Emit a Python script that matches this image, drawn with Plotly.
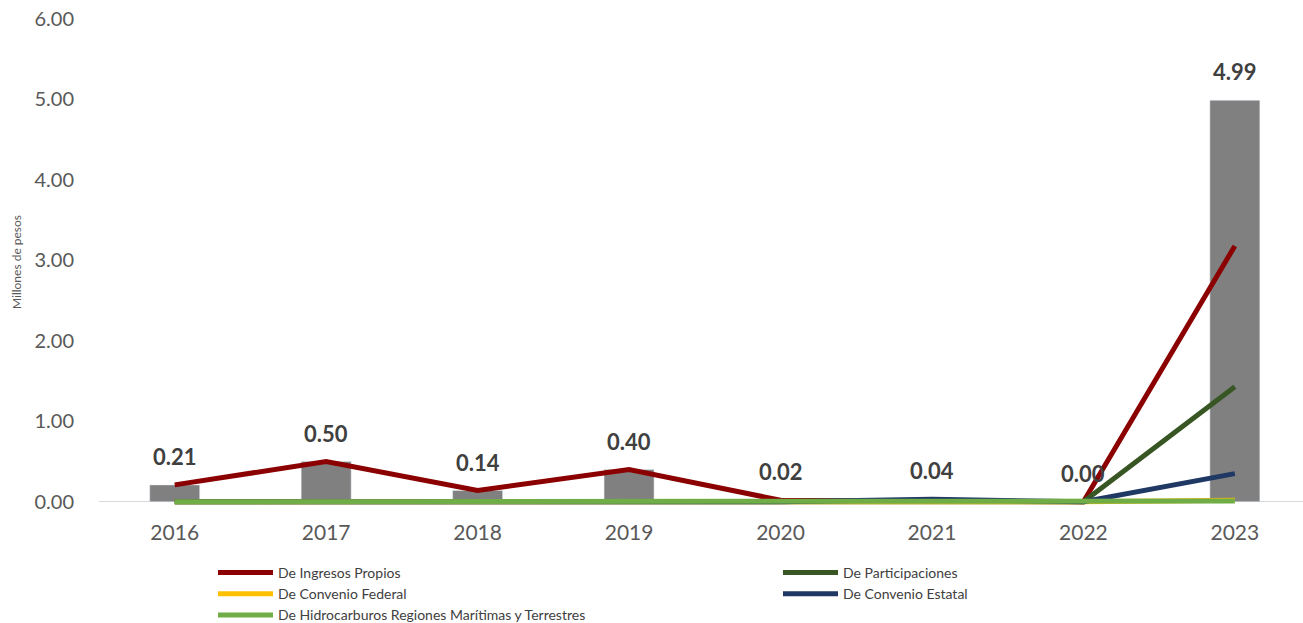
import plotly.graph_objects as go

years = ["2016", "2017", "2018", "2019", "2020", "2021", "2022", "2023"]
total = [0.21, 0.50, 0.14, 0.40, 0.02, 0.04, 0.00, 4.99]

ingresos_propios = [0.21, 0.50, 0.14, 0.40, 0.02, 0.01, 0.00, 3.18]
participaciones = [0.00, 0.00, 0.00, 0.00, 0.00, 0.00, 0.00, 1.43]
convenio_federal = [0.00, 0.00, 0.00, 0.00, 0.00, 0.00, 0.00, 0.02]
convenio_estatal = [0.00, 0.00, 0.00, 0.00, 0.00, 0.03, 0.00, 0.35]
hidrocarburos = [0.00, 0.00, 0.00, 0.00, 0.00, 0.00, 0.00, 0.01]

# (name, values, colour, legend column)
series = [
    ("De Ingresos Propios", ingresos_propios, "#8B0000", "legend"),
    ("De Participaciones", participaciones, "#375623", "legend2"),
    ("De Convenio Federal", convenio_federal, "#FFC000", "legend"),
    ("De Convenio Estatal", convenio_estatal, "#1F3864", "legend2"),
    ("De Hidrocarburos Regiones Marítimas y Terrestres", hidrocarburos, "#70AD47", "legend"),
]

FONT = "Lato"
W, H = 1303, 623
ML, MR, MT, MB = 99, 0, 19, 118
PW, PH = W - ML - MR, H - MT - MB
Y_MIN = -0.04  # small pad so the zero-level lines are not clipped

fig = go.Figure()
fig.add_trace(go.Bar(
    x=years, y=total, marker_color="#808080", width=0.33,
    showlegend=False, hoverinfo="x+y",
))
for name, vals, color, leg in series:
    fig.add_trace(go.Scatter(
        x=years, y=vals, name=name, mode="lines",
        line=dict(color=color, width=5), legend=leg,
    ))

# value labels above each bar (category index used for x position)
for i, v in enumerate(total):
    fig.add_annotation(
        x=i, y=v, text=f"<b>{v:.2f}</b>", showarrow=False,
        yanchor="bottom", yshift=13,
        font=dict(family=FONT, size=22, color="#404040"),
    )

legend_style = dict(
    orientation="v", xanchor="left", yanchor="top",
    y=(H - MB - 557) / PH,
    itemwidth=55, tracegroupgap=0, itemclick=False,
    font=dict(family=FONT, size=14, color="#404040"),
    bgcolor="rgba(0,0,0,0)",
)

fig.update_layout(
    width=W, height=H,
    margin=dict(l=ML, r=MR, t=MT, b=MB, autoexpand=False),
    plot_bgcolor="white", paper_bgcolor="white",
    font=dict(family=FONT, color="#595959"),
    xaxis=dict(
        type="category",
        range=[-0.5, 7.45], showgrid=False, zeroline=False, showline=False,
        ticks="outside", ticklen=9, tickcolor="rgba(0,0,0,0)",
        tickangle=0, tickfont=dict(size=21, color="#595959"),
    ),
    yaxis=dict(
        range=[Y_MIN, 6], tickvals=[0, 1, 2, 3, 4, 5, 6], tickformat=".2f",
        showgrid=False, zeroline=True, zerolinecolor="#D9D9D9", zerolinewidth=1,
        showline=False, ticks="outside", ticklen=20,
        tickcolor="rgba(0,0,0,0)",
        tickfont=dict(size=20, color="#595959"),
        title=dict(text="Millones de pesos", font=dict(size=12, color="#595959"), standoff=10),
    ),
    legend=dict(legend_style, x=(213 - ML) / PW),
    legend2=dict(legend_style, x=(778 - ML) / PW),
)

fig.write_html("out.html")
